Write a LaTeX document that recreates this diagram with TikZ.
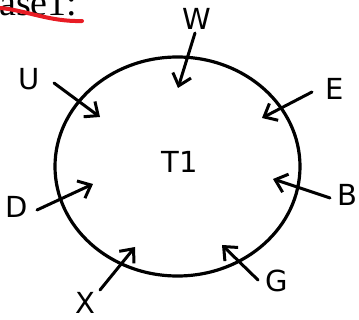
\documentclass[tikz,border=0pt]{standalone}
\usepackage{fontspec}
\setmainfont{DejaVu Sans}
\newfontfamily\serifcut{Liberation Serif}
\usetikzlibrary{arrows.meta,shapes.geometric}
\definecolor{strikered}{RGB}{232,28,36}
\tikzset{
  lbl/.style={font=\fontsize{29}{32}\selectfont, inner sep=0pt, text=black},
  inarrow/.style={line width=3pt, -{Straight Barb[length=11pt,width=19pt,line width=3pt]}, line cap=round},
  ring/.style={line width=3.2pt, draw, ellipse, inner sep=0pt, minimum width=245pt, minimum height=219pt}
}
\begin{document}
\begin{tikzpicture}[x=1pt,y=-1pt]
\useasboundingbox (0,0) rectangle (359,320);
\clip (0,0) rectangle (359,320);
% cut-off header
\node[anchor=base west, inner sep=0pt, font=\serifcut\fontsize{38}{40}\selectfont] (hdr) at (-1,15.5) {ase1:};
\draw[line width=4pt, strikered, line cap=round] (0,8) .. controls (25,10) and (50,22) .. (82,21);
% ring
\node[ring] (ringnode) at (177.5,166.5) {};
\node[lbl] (t1) at (180,162) {T1};
% labels
\node[lbl] (w) at (197,19) {W};
\node[lbl] (u) at (29,79) {U};
\node[lbl] (e) at (335,89) {E};
\node[lbl] (b) at (347,195) {B};
\node[lbl] (g) at (277,281) {G};
\node[lbl] (x) at (85,303) {X};
\node[lbl] (d) at (17,207) {D};
% arrow ends
\coordinate (ws) at (195,33); \coordinate (wt) at (178,88);
\coordinate (us) at (54,83);  \coordinate (ut) at (100,117);
\coordinate (es) at (312,92); \coordinate (et) at (262,118);
\coordinate (bs) at (330,198); \coordinate (bt) at (273,179);
\coordinate (gs) at (258,280); \coordinate (gt) at (222,245);
\coordinate (xs) at (100,290); \coordinate (xt) at (135,247);
\coordinate (ds) at (37,210); \coordinate (dt) at (93,184);
\draw[inarrow] (ws) -- (wt);
\draw[inarrow] (us) -- (ut);
\draw[inarrow] (es) -- (et);
\draw[inarrow] (bs) -- (bt);
\draw[inarrow] (gs) -- (gt);
\draw[inarrow] (xs) -- (xt);
\draw[inarrow] (ds) -- (dt);
\end{tikzpicture}
\end{document}
